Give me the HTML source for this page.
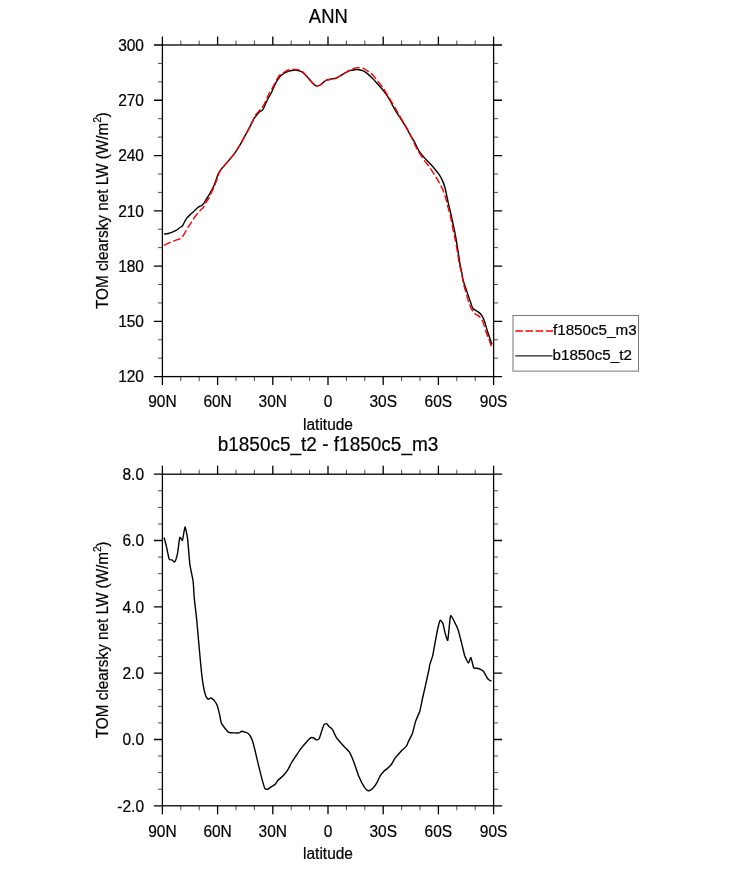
<!DOCTYPE html><html><head><meta charset="utf-8"><style>html,body{margin:0;padding:0;background:#fff;}svg{display:block;will-change:transform;}text{font-family:"Liberation Sans",sans-serif;fill:#000;stroke:#000;stroke-width:0.2px;}</style></head><body>
<svg width="733" height="869" viewBox="0 0 733 869">
<rect width="733" height="869" fill="#fff"/>
<text transform="translate(328.30 22.90) scale(0.97 1.02)" text-anchor="middle" font-size="19">ANN</text>
<rect x="162.4" y="45.0" width="331.2" height="331.6" fill="none" stroke="#000" stroke-width="1.3"/>
<path d="M162.40 45.0V36.50M162.40 376.6V385.10M217.60 45.0V36.50M217.60 376.6V385.10M272.80 45.0V36.50M272.80 376.6V385.10M328.00 45.0V36.50M328.00 376.6V385.10M383.20 45.0V36.50M383.20 376.6V385.10M438.40 45.0V36.50M438.40 376.6V385.10M493.60 45.0V36.50M493.60 376.6V385.10M162.4 376.60H153.90M493.6 376.60H502.10M162.4 321.33H153.90M493.6 321.33H502.10M162.4 266.07H153.90M493.6 266.07H502.10M162.4 210.80H153.90M493.6 210.80H502.10M162.4 155.53H153.90M493.6 155.53H502.10M162.4 100.27H153.90M493.6 100.27H502.10M162.4 45.00H153.90M493.6 45.00H502.10" fill="none" stroke="#000" stroke-width="1.3"/>
<path d="M180.80 45.0V40.50M180.80 376.6V381.10M199.20 45.0V40.50M199.20 376.6V381.10M236.00 45.0V40.50M236.00 376.6V381.10M254.40 45.0V40.50M254.40 376.6V381.10M291.20 45.0V40.50M291.20 376.6V381.10M309.60 45.0V40.50M309.60 376.6V381.10M346.40 45.0V40.50M346.40 376.6V381.10M364.80 45.0V40.50M364.80 376.6V381.10M401.60 45.0V40.50M401.60 376.6V381.10M420.00 45.0V40.50M420.00 376.6V381.10M456.80 45.0V40.50M456.80 376.6V381.10M475.20 45.0V40.50M475.20 376.6V381.10M162.4 358.18H157.90M493.6 358.18H498.10M162.4 339.76H157.90M493.6 339.76H498.10M162.4 302.91H157.90M493.6 302.91H498.10M162.4 284.49H157.90M493.6 284.49H498.10M162.4 247.64H157.90M493.6 247.64H498.10M162.4 229.22H157.90M493.6 229.22H498.10M162.4 192.38H157.90M493.6 192.38H498.10M162.4 173.96H157.90M493.6 173.96H498.10M162.4 137.11H157.90M493.6 137.11H498.10M162.4 118.69H157.90M493.6 118.69H498.10M162.4 81.84H157.90M493.6 81.84H498.10M162.4 63.42H157.90M493.6 63.42H498.10" fill="none" stroke="#000" stroke-width="0.7"/>
<text transform="translate(144.00 382.30) scale(1 1.02)" text-anchor="end" font-size="15.5">120</text>
<text transform="translate(144.00 327.03) scale(1 1.02)" text-anchor="end" font-size="15.5">150</text>
<text transform="translate(144.00 271.77) scale(1 1.02)" text-anchor="end" font-size="15.5">180</text>
<text transform="translate(144.00 216.50) scale(1 1.02)" text-anchor="end" font-size="15.5">210</text>
<text transform="translate(144.00 161.23) scale(1 1.02)" text-anchor="end" font-size="15.5">240</text>
<text transform="translate(144.00 105.97) scale(1 1.02)" text-anchor="end" font-size="15.5">270</text>
<text transform="translate(144.00 50.70) scale(1 1.02)" text-anchor="end" font-size="15.5">300</text>
<text transform="translate(162.40 407.30) scale(1 1.02)" text-anchor="middle" font-size="15.5">90N</text>
<text transform="translate(217.60 407.30) scale(1 1.02)" text-anchor="middle" font-size="15.5">60N</text>
<text transform="translate(272.80 407.30) scale(1 1.02)" text-anchor="middle" font-size="15.5">30N</text>
<text transform="translate(328.00 407.30) scale(1 1.02)" text-anchor="middle" font-size="15.5">0</text>
<text transform="translate(383.20 407.30) scale(1 1.02)" text-anchor="middle" font-size="15.5">30S</text>
<text transform="translate(438.40 407.30) scale(1 1.02)" text-anchor="middle" font-size="15.5">60S</text>
<text transform="translate(493.60 407.30) scale(1 1.02)" text-anchor="middle" font-size="15.5">90S</text>
<text transform="translate(328.00 429.60) scale(1 1.02)" text-anchor="middle" font-size="15.5">latitude</text>
<text transform="translate(108.1 309.00) rotate(-90) scale(1 1.06)" font-size="15.3">TOM clearsky net LW (W/m<tspan font-size="10.3" dy="-6.9">2</tspan><tspan dy="6.9" dx="-0.5" font-size="15.3">)</tspan></text>
<path d="M164.10 234.10C164.78 234.00 166.83 233.82 168.20 233.50C169.57 233.18 170.93 232.75 172.30 232.20C173.67 231.65 175.18 230.95 176.40 230.20C177.62 229.45 178.58 228.45 179.60 227.70C180.62 226.95 181.68 226.65 182.50 225.70C183.32 224.75 183.75 223.30 184.50 222.00C185.25 220.70 185.90 219.27 187.00 217.90C188.10 216.53 189.73 215.10 191.10 213.80C192.47 212.50 194.12 211.12 195.20 210.10C196.28 209.08 196.80 208.35 197.60 207.70C198.40 207.05 199.27 206.62 200.00 206.20C200.73 205.78 201.37 205.67 202.00 205.20C202.63 204.73 203.15 204.30 203.80 203.40C204.45 202.50 205.15 201.00 205.90 199.80C206.65 198.60 207.45 197.60 208.30 196.20C209.15 194.80 210.15 192.95 211.00 191.40C211.85 189.85 212.77 188.22 213.40 186.90C214.03 185.58 214.42 184.47 214.80 183.50C215.18 182.53 215.20 182.53 215.70 181.10C216.20 179.67 217.20 176.45 217.80 174.90C218.40 173.35 218.73 172.73 219.30 171.80C219.87 170.87 219.62 171.20 221.20 169.30C222.78 167.40 226.50 163.15 228.80 160.40C231.10 157.65 233.10 155.43 235.00 152.80C236.90 150.17 238.58 147.33 240.20 144.60C241.82 141.87 243.07 139.40 244.70 136.40C246.33 133.40 248.43 129.60 250.00 126.60C251.57 123.60 252.93 120.37 254.10 118.40C255.27 116.43 256.07 115.92 257.00 114.80C257.93 113.68 258.75 112.53 259.70 111.70C260.65 110.87 261.70 111.17 262.70 109.80C263.70 108.43 264.72 105.55 265.70 103.50C266.68 101.45 267.63 99.33 268.60 97.50C269.57 95.67 270.45 94.65 271.50 92.50C272.55 90.35 273.52 87.22 274.90 84.60C276.28 81.98 278.30 78.65 279.80 76.80C281.30 74.95 282.38 74.45 283.90 73.50C285.42 72.55 287.38 71.62 288.90 71.10C290.42 70.58 291.78 70.55 293.00 70.40C294.22 70.25 294.85 70.02 296.20 70.20C297.55 70.38 299.32 70.47 301.10 71.50C302.88 72.53 304.98 74.48 306.90 76.40C308.82 78.32 310.97 81.38 312.60 83.00C314.23 84.62 315.33 85.83 316.70 86.10C318.07 86.37 319.30 85.53 320.80 84.60C322.30 83.67 324.17 81.38 325.70 80.50C327.23 79.62 328.47 79.65 330.00 79.30C331.53 78.95 333.27 78.95 334.90 78.40C336.53 77.85 338.15 76.88 339.80 76.00C341.45 75.12 343.15 73.98 344.80 73.10C346.45 72.22 348.07 71.27 349.70 70.70C351.33 70.13 353.10 69.87 354.60 69.70C356.10 69.53 357.33 69.53 358.70 69.70C360.07 69.87 361.30 70.00 362.80 70.70C364.30 71.40 366.07 72.62 367.70 73.90C369.33 75.18 370.97 76.75 372.60 78.40C374.23 80.05 375.85 81.95 377.50 83.80C379.15 85.65 380.98 87.67 382.50 89.50C384.02 91.33 385.35 92.97 386.60 94.80C387.85 96.63 388.52 97.85 390.00 100.50C391.48 103.15 393.75 107.73 395.50 110.70C397.25 113.67 398.90 115.82 400.50 118.30C402.10 120.78 403.57 123.00 405.10 125.60C406.63 128.20 408.17 131.22 409.70 133.90C411.23 136.58 412.73 138.82 414.30 141.70C415.87 144.58 417.48 148.58 419.10 151.20C420.72 153.82 422.27 155.43 424.00 157.40C425.73 159.37 427.67 161.03 429.50 163.00C431.33 164.97 433.38 167.25 435.00 169.20C436.62 171.15 437.93 172.75 439.20 174.70C440.47 176.65 441.63 178.72 442.60 180.90C443.57 183.08 444.33 185.45 445.00 187.80C445.67 190.15 446.00 192.23 446.60 195.00C447.20 197.77 447.90 201.32 448.60 204.40C449.30 207.48 450.10 210.40 450.80 213.50C451.50 216.60 452.08 219.65 452.80 223.00C453.52 226.35 454.32 229.50 455.10 233.60C455.88 237.70 456.68 242.52 457.50 247.60C458.32 252.68 459.33 260.18 460.00 264.10C460.67 268.02 460.95 268.33 461.50 271.10C462.05 273.87 462.55 277.72 463.30 280.70C464.05 283.68 465.13 286.40 466.00 289.00C466.87 291.60 467.67 293.88 468.50 296.30C469.33 298.72 470.23 301.43 471.00 303.50C471.77 305.57 471.90 307.30 473.10 308.70C474.30 310.10 476.77 310.80 478.20 311.90C479.63 313.00 480.67 313.80 481.70 315.30C482.73 316.80 483.48 318.37 484.40 320.90C485.32 323.43 486.27 327.52 487.20 330.50C488.13 333.48 489.20 336.48 490.00 338.80C490.80 341.12 491.67 343.47 492.00 344.40" fill="none" stroke="#000" stroke-width="1.4" stroke-linejoin="round"/>
<path d="M164.10 245.30C164.78 244.97 166.83 243.92 168.20 243.30C169.57 242.68 170.53 242.28 172.30 241.60C174.07 240.92 177.23 239.87 178.80 239.20C180.37 238.53 180.75 238.55 181.70 237.60C182.65 236.65 183.48 235.15 184.50 233.50C185.52 231.85 186.70 229.48 187.80 227.70C188.90 225.92 190.00 224.50 191.10 222.80C192.20 221.10 193.17 219.23 194.40 217.50C195.63 215.77 197.40 213.70 198.50 212.40C199.60 211.10 200.17 210.55 201.00 209.70C201.83 208.85 202.88 208.20 203.50 207.30C204.12 206.40 204.18 205.27 204.70 204.30C205.22 203.33 205.95 202.45 206.60 201.50C207.25 200.55 208.02 199.63 208.60 198.60C209.18 197.57 209.40 196.80 210.10 195.30C210.80 193.80 212.05 191.15 212.80 189.60C213.55 188.05 214.10 187.18 214.60 186.00C215.10 184.82 215.38 183.67 215.80 182.50C216.22 181.33 216.53 180.62 217.10 179.00C217.67 177.38 218.40 174.53 219.20 172.80C220.00 171.07 220.30 170.67 221.90 168.60C223.50 166.53 226.62 163.03 228.80 160.40C230.98 157.77 233.10 155.43 235.00 152.80C236.90 150.17 238.58 147.33 240.20 144.60C241.82 141.87 243.07 139.40 244.70 136.40C246.33 133.40 248.53 129.50 250.00 126.60C251.47 123.70 252.63 120.87 253.50 119.00C254.37 117.13 254.17 116.87 255.20 115.40C256.23 113.93 258.58 111.45 259.70 110.20C260.82 108.95 261.03 109.15 261.90 107.90C262.77 106.65 263.78 104.93 264.90 102.70C266.02 100.47 267.50 96.70 268.60 94.50C269.70 92.30 269.77 92.58 271.50 89.50C273.23 86.42 276.93 78.87 279.00 76.00C281.07 73.13 282.25 73.33 283.90 72.30C285.55 71.27 286.98 70.28 288.90 69.80C290.82 69.32 293.77 69.40 295.40 69.40C297.03 69.40 297.47 69.38 298.70 69.80C299.93 70.22 301.43 70.80 302.80 71.90C304.17 73.00 305.27 74.55 306.90 76.40C308.53 78.25 310.97 81.38 312.60 83.00C314.23 84.62 315.33 85.83 316.70 86.10C318.07 86.37 319.30 85.53 320.80 84.60C322.30 83.67 324.17 81.33 325.70 80.50C327.23 79.67 328.47 79.87 330.00 79.60C331.53 79.33 333.27 79.50 334.90 78.90C336.53 78.30 338.15 76.97 339.80 76.00C341.45 75.03 343.15 74.07 344.80 73.10C346.45 72.13 348.20 70.98 349.70 70.20C351.20 69.42 352.43 68.80 353.80 68.40C355.17 68.00 356.40 67.83 357.90 67.80C359.40 67.77 361.17 67.65 362.80 68.20C364.43 68.75 366.07 70.00 367.70 71.10C369.33 72.20 370.97 73.17 372.60 74.80C374.23 76.43 375.85 78.87 377.50 80.90C379.15 82.93 380.98 84.88 382.50 87.00C384.02 89.12 384.43 90.02 386.60 93.60C388.77 97.18 393.18 104.55 395.50 108.50C397.82 112.45 398.90 114.55 400.50 117.30C402.10 120.05 403.57 122.30 405.10 125.00C406.63 127.70 407.93 129.93 409.70 133.50C411.47 137.07 414.13 143.22 415.70 146.40C417.27 149.58 417.60 150.18 419.10 152.60C420.60 155.02 422.97 158.48 424.70 160.90C426.43 163.32 428.02 165.03 429.50 167.10C430.98 169.17 432.22 171.12 433.60 173.30C434.98 175.48 436.53 178.02 437.80 180.20C439.07 182.38 440.05 183.98 441.20 186.40C442.35 188.82 443.72 191.82 444.70 194.70C445.68 197.58 446.12 199.95 447.10 203.70C448.08 207.45 449.55 212.65 450.60 217.20C451.65 221.75 452.47 226.40 453.40 231.00C454.33 235.60 455.23 239.43 456.20 244.80C457.17 250.17 458.32 258.50 459.20 263.20C460.08 267.90 460.82 269.73 461.50 273.00C462.18 276.27 462.47 279.22 463.30 282.80C464.13 286.38 465.47 290.87 466.50 294.50C467.53 298.13 468.40 301.72 469.50 304.60C470.60 307.48 472.02 310.15 473.10 311.80C474.18 313.45 474.92 313.68 476.00 314.50C477.08 315.32 478.43 315.42 479.60 316.70C480.77 317.98 481.85 319.43 483.00 322.20C484.15 324.97 485.45 330.30 486.50 333.30C487.55 336.30 488.50 338.00 489.30 340.20C490.10 342.40 490.82 345.07 491.30 346.50C491.78 347.93 492.05 348.42 492.20 348.80" fill="none" stroke="#f00" stroke-width="1.4" stroke-dasharray="7.5 2.7" stroke-linejoin="round"/>
<rect x="513" y="315.5" width="125.5" height="55.6" fill="none" stroke="#777" stroke-width="1"/>
<line x1="515.3" y1="331" x2="553" y2="331" stroke="#f00" stroke-width="1.4" stroke-dasharray="7.5 2.7"/>
<line x1="515.3" y1="355.8" x2="552.5" y2="355.8" stroke="#222" stroke-width="1.2"/>
<text transform="translate(553.00 335.20) scale(1 1.02)" font-size="15.2">f1850c5_m3</text>
<text transform="translate(552.50 359.70) scale(1 1.02)" font-size="15.2">b1850c5_t2</text>
<text transform="translate(328.00 450.50) scale(1 1.02)" text-anchor="middle" font-size="19">b1850c5_t2 - f1850c5_m3</text>
<rect x="162.4" y="474.2" width="331.2" height="331.6" fill="none" stroke="#000" stroke-width="1.3"/>
<path d="M162.40 474.2V465.70M162.40 805.8V814.30M217.60 474.2V465.70M217.60 805.8V814.30M272.80 474.2V465.70M272.80 805.8V814.30M328.00 474.2V465.70M328.00 805.8V814.30M383.20 474.2V465.70M383.20 805.8V814.30M438.40 474.2V465.70M438.40 805.8V814.30M493.60 474.2V465.70M493.60 805.8V814.30M162.4 805.80H153.90M493.6 805.80H502.10M162.4 739.48H153.90M493.6 739.48H502.10M162.4 673.16H153.90M493.6 673.16H502.10M162.4 606.84H153.90M493.6 606.84H502.10M162.4 540.52H153.90M493.6 540.52H502.10M162.4 474.20H153.90M493.6 474.20H502.10" fill="none" stroke="#000" stroke-width="1.3"/>
<path d="M180.80 474.2V469.70M180.80 805.8V810.30M199.20 474.2V469.70M199.20 805.8V810.30M236.00 474.2V469.70M236.00 805.8V810.30M254.40 474.2V469.70M254.40 805.8V810.30M291.20 474.2V469.70M291.20 805.8V810.30M309.60 474.2V469.70M309.60 805.8V810.30M346.40 474.2V469.70M346.40 805.8V810.30M364.80 474.2V469.70M364.80 805.8V810.30M401.60 474.2V469.70M401.60 805.8V810.30M420.00 474.2V469.70M420.00 805.8V810.30M456.80 474.2V469.70M456.80 805.8V810.30M475.20 474.2V469.70M475.20 805.8V810.30M162.4 789.22H157.90M493.6 789.22H498.10M162.4 772.64H157.90M493.6 772.64H498.10M162.4 756.06H157.90M493.6 756.06H498.10M162.4 722.90H157.90M493.6 722.90H498.10M162.4 706.32H157.90M493.6 706.32H498.10M162.4 689.74H157.90M493.6 689.74H498.10M162.4 656.58H157.90M493.6 656.58H498.10M162.4 640.00H157.90M493.6 640.00H498.10M162.4 623.42H157.90M493.6 623.42H498.10M162.4 590.26H157.90M493.6 590.26H498.10M162.4 573.68H157.90M493.6 573.68H498.10M162.4 557.10H157.90M493.6 557.10H498.10M162.4 523.94H157.90M493.6 523.94H498.10M162.4 507.36H157.90M493.6 507.36H498.10M162.4 490.78H157.90M493.6 490.78H498.10" fill="none" stroke="#000" stroke-width="0.7"/>
<text transform="translate(144.00 811.50) scale(1 1.02)" text-anchor="end" font-size="15.5">-2.0</text>
<text transform="translate(144.00 745.18) scale(1 1.02)" text-anchor="end" font-size="15.5">0.0</text>
<text transform="translate(144.00 678.86) scale(1 1.02)" text-anchor="end" font-size="15.5">2.0</text>
<text transform="translate(144.00 612.54) scale(1 1.02)" text-anchor="end" font-size="15.5">4.0</text>
<text transform="translate(144.00 546.22) scale(1 1.02)" text-anchor="end" font-size="15.5">6.0</text>
<text transform="translate(144.00 479.90) scale(1 1.02)" text-anchor="end" font-size="15.5">8.0</text>
<text transform="translate(162.40 836.50) scale(1 1.02)" text-anchor="middle" font-size="15.5">90N</text>
<text transform="translate(217.60 836.50) scale(1 1.02)" text-anchor="middle" font-size="15.5">60N</text>
<text transform="translate(272.80 836.50) scale(1 1.02)" text-anchor="middle" font-size="15.5">30N</text>
<text transform="translate(328.00 836.50) scale(1 1.02)" text-anchor="middle" font-size="15.5">0</text>
<text transform="translate(383.20 836.50) scale(1 1.02)" text-anchor="middle" font-size="15.5">30S</text>
<text transform="translate(438.40 836.50) scale(1 1.02)" text-anchor="middle" font-size="15.5">60S</text>
<text transform="translate(493.60 836.50) scale(1 1.02)" text-anchor="middle" font-size="15.5">90S</text>
<text transform="translate(328.00 858.80) scale(1 1.02)" text-anchor="middle" font-size="15.5">latitude</text>
<text transform="translate(108.1 738.20) rotate(-90) scale(1 1.06)" font-size="15.3">TOM clearsky net LW (W/m<tspan font-size="10.3" dy="-6.9">2</tspan><tspan dy="6.9" dx="-0.5" font-size="15.3">)</tspan></text>
<path d="M164.10 537.50C164.29 538.23 165.97 544.49 166.40 546.30C166.83 548.11 168.73 558.07 169.20 559.20C169.67 560.33 171.54 559.67 172.00 559.90C172.46 560.12 174.24 562.42 174.70 561.90C175.16 561.38 177.07 555.63 177.50 553.60C177.93 551.57 179.38 538.61 179.80 537.50C180.22 536.39 182.07 541.17 182.50 540.30C182.93 539.42 184.57 527.12 185.00 527.00C185.43 526.88 187.19 535.76 187.60 538.90C188.01 542.04 189.44 561.18 189.90 564.70C190.36 568.23 192.74 578.48 193.10 581.20C193.46 583.93 193.92 594.37 194.20 597.40C194.48 600.43 196.16 614.23 196.50 617.60C196.84 620.97 197.97 634.10 198.30 637.80C198.63 641.50 200.22 659.06 200.50 662.00C200.78 664.94 201.38 671.18 201.60 673.10C201.82 675.02 202.88 683.28 203.20 685.10C203.52 686.92 204.99 693.72 205.40 694.90C205.81 696.08 207.65 699.04 208.10 699.30C208.55 699.56 210.30 697.91 210.80 698.00C211.30 698.09 213.55 699.74 214.10 700.40C214.65 701.06 216.94 704.72 217.40 705.90C217.86 707.08 219.28 713.19 219.60 714.60C219.92 716.01 220.79 721.71 221.20 722.80C221.61 723.89 223.87 726.91 224.50 727.70C225.13 728.49 227.98 731.87 228.80 732.30C229.62 732.73 233.43 732.85 234.30 732.90C235.17 732.95 238.57 733.04 239.20 732.90C239.83 732.76 241.12 731.13 241.90 731.20C242.68 731.27 247.65 732.99 248.50 733.70C249.35 734.41 251.57 738.38 252.10 739.70C252.62 741.02 254.30 747.50 254.80 749.50C255.30 751.50 257.55 761.43 258.10 763.70C258.65 765.98 260.85 774.76 261.40 776.80C261.95 778.84 264.20 787.16 264.70 788.20C265.20 789.24 266.90 789.39 267.40 789.30C267.90 789.21 270.07 787.49 270.70 787.10C271.33 786.71 274.41 785.14 275.00 784.60C275.59 784.06 277.07 781.39 277.80 780.60C278.53 779.81 282.98 775.97 283.80 775.10C284.62 774.23 286.93 771.29 287.60 770.20C288.28 769.11 291.17 763.23 291.90 762.00C292.62 760.77 295.57 756.59 296.30 755.50C297.03 754.41 299.88 749.99 300.70 748.90C301.52 747.81 305.24 743.33 306.10 742.40C306.96 741.47 310.36 738.07 311.00 737.70C311.64 737.33 313.34 737.82 313.80 738.00C314.26 738.18 316.05 739.85 316.50 739.90C316.95 739.95 318.79 739.26 319.20 738.60C319.61 737.94 321.00 733.16 321.40 732.00C321.80 730.84 323.56 725.40 324.00 724.70C324.44 724.00 326.29 723.46 326.70 723.60C327.11 723.74 328.44 725.94 328.90 726.40C329.36 726.86 331.56 728.15 332.20 729.10C332.84 730.05 335.60 736.34 336.60 737.80C337.60 739.26 343.11 745.37 344.20 746.60C345.29 747.83 348.88 751.28 349.70 752.60C350.52 753.92 353.23 760.40 354.00 762.40C354.77 764.40 358.07 774.60 358.90 776.60C359.72 778.60 363.12 785.22 363.90 786.40C364.67 787.58 367.47 790.62 368.20 790.80C368.93 790.98 371.88 789.27 372.60 788.60C373.32 787.93 376.17 783.86 376.80 782.80C377.43 781.74 379.62 776.85 380.20 775.90C380.77 774.95 383.01 772.09 383.70 771.40C384.39 770.71 387.81 768.26 388.50 767.60C389.19 766.94 391.48 764.25 392.00 763.50C392.52 762.75 394.02 759.54 394.70 758.60C395.38 757.66 399.22 753.27 400.20 752.20C401.18 751.13 405.78 746.77 406.50 745.80C407.22 744.83 408.32 741.61 408.80 740.60C409.28 739.59 411.73 735.33 412.30 733.70C412.88 732.08 415.07 722.97 415.70 721.10C416.32 719.23 419.23 713.22 419.80 711.30C420.38 709.38 422.12 700.17 422.60 698.00C423.08 695.83 424.96 687.72 425.50 685.30C426.04 682.88 428.74 670.74 429.10 669.00C429.46 667.26 429.51 665.48 429.80 664.40C430.09 663.32 432.13 658.06 432.60 656.10C433.07 654.14 434.97 643.20 435.40 640.90C435.83 638.60 437.40 630.23 437.80 628.50C438.20 626.77 439.77 620.61 440.20 620.20C440.62 619.79 442.50 622.57 442.90 623.60C443.30 624.63 444.59 631.22 445.00 632.60C445.41 633.98 447.34 641.59 447.80 640.20C448.26 638.81 449.93 617.39 450.50 615.90C451.07 614.41 454.07 621.14 454.70 622.30C455.33 623.46 457.59 628.32 458.10 629.80C458.61 631.27 460.41 638.48 460.80 640.00C461.19 641.52 462.47 646.66 462.80 648.00C463.13 649.34 464.32 654.84 464.80 656.10C465.28 657.36 467.99 662.98 468.50 663.10C469.01 663.22 470.47 657.11 470.90 657.50C471.33 657.89 473.20 666.91 473.70 667.80C474.20 668.69 476.33 668.08 476.90 668.20C477.47 668.33 479.93 669.01 480.50 669.30C481.07 669.59 483.24 670.98 483.80 671.70C484.36 672.43 486.72 677.28 487.20 678.00C487.68 678.72 489.14 680.03 489.50 680.30C489.86 680.57 491.33 681.12 491.50 681.20" fill="none" stroke="#000" stroke-width="1.4" stroke-linejoin="round"/>
</svg></body></html>
